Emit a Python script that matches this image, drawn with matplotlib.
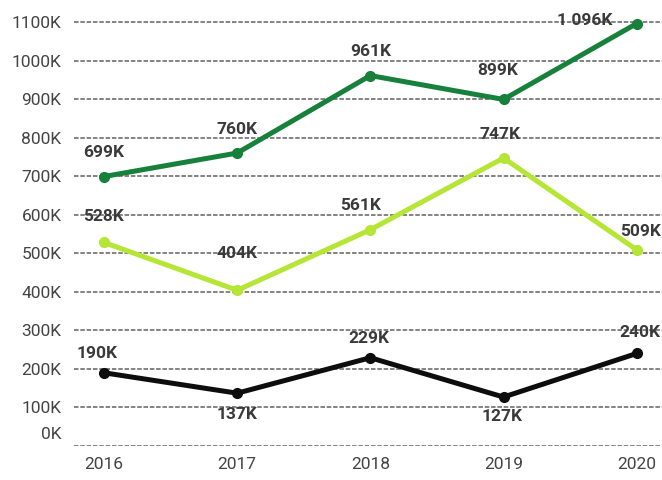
import matplotlib.pyplot as plt
from matplotlib.ticker import FuncFormatter
from matplotlib.transforms import ScaledTranslation

plt.rcParams["font.family"] = ["Roboto", "DejaVu Sans"]

years = [2016, 2017, 2018, 2019, 2020]
dark_green = [699, 760, 961, 899, 1096]
light_green = [528, 404, 561, 747, 509]
black = [190, 137, 229, 127, 240]
label_text = {
    "dark": ["699K", "760K", "961K", "899K", "1 096K"],
    "light": ["528K", "404K", "561K", "747K", "509K"],
    "black": ["190K", "137K", "229K", "127K", "240K"],
}
y_ticks = [0, 100, 200, 300, 400, 500, 600, 700, 800, 900, 1000, 1100]

# label offsets in pixels (dx, dy), layout only
offsets = {
    "dark": [(0, 24), (0, 24), (0, 24), (-6, 29), (-52, 3)],
    "light": [(0, 26), (0, 37), (-10, 24), (-4, 24), (4, 18)],
    "black": [(-7, 19), (0, -21), (-1, 19), (-1, -19), (3, 21)],
}
colors = {"dark": "#17803a", "light": "#b5e535", "black": "#0d0d0d"}
series = {"dark": dark_green, "light": light_green, "black": black}

fig = plt.figure(figsize=(6.62, 4.8), dpi=100)
ax = fig.add_axes([74 / 662, 34 / 480, 1 - 74 / 662, 1 - 34 / 480])

for key in ["dark", "light", "black"]:
    vals = series[key]
    ax.plot(years, vals, color=colors[key], lw=3.6, marker="o", ms=7,
            solid_capstyle="round", zorder=3, clip_on=False)
    for x, v, t, (dx, dy) in zip(years, vals, label_text[key], offsets[key]):
        ax.annotate(t, (x, v), xytext=(dx, dy), textcoords="offset pixels",
                    ha="center", va="center", fontsize=12.5, fontweight="bold",
                    color="#3a3a3a", zorder=4, annotation_clip=False)

ax.set_xlim(2016 - 0.225, 2020 + 0.19)
ax.set_ylim(0, 1157)
ax.set_yticks(y_ticks)
ax.yaxis.set_major_formatter(FuncFormatter(lambda v, p: f"{int(v)}K"))
ax.set_xticks(years)
ax.grid(axis="y", color="#7a7a7a", linestyle=(0, (2.5, 1.0)), linewidth=1.3, zorder=0)
for s in ax.spines.values():
    s.set_visible(False)
ax.tick_params(length=0, labelsize=12.5, labelcolor="#444444")
ax.tick_params(axis="y", pad=9)
ax.tick_params(axis="x", pad=8)

# the 0K label sits above its gridline in the original
lbl0 = ax.get_yticklabels()[0]
lbl0.set_transform(lbl0.get_transform() + ScaledTranslation(0, 13 / 100, fig.dpi_scale_trans))

fig.savefig("out.png", dpi=100)
